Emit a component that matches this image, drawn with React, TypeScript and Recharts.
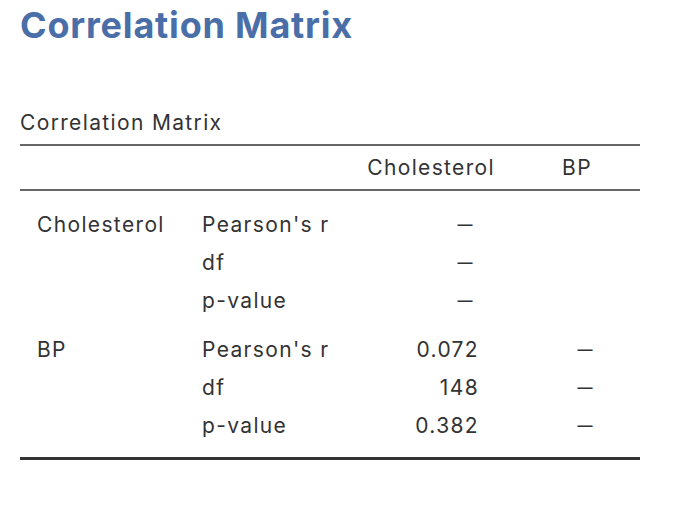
import { ReferenceLine, Scatter, ScatterChart, XAxis, YAxis } from "recharts";

// table content
const pageTitle = "Correlation Matrix";
const tableTitle = "Correlation Matrix";
const variables = ["Cholesterol", "BP"];
const statistics = ["Pearson's r", "df", "p-value"];
const columnHeaders = ["Cholesterol", "BP"];
const cholesterolColumn = ["—", "—", "—", "0.072", "148", "0.382"];
const bpColumn = ["", "", "", "—", "—", "—"];

// layout (pixels in the 690x508 canvas)
const W = 690;
const H = 508;
const groupTop = [224, 349];
const rowStep = 38;
const colX = { group: 37, stat: 202, chol: 479, cholDash: 465, bp: 585 };
const TEXT = "#333333";
const FONT = "Inter, Roboto, 'Noto Sans', sans-serif";

type Cell = { x: number; y: number; text: string; anchor: string; kind: string };

const cells: Cell[] = [];
cells.push({ x: 20, y: 25, text: pageTitle, anchor: "start", kind: "title" });
cells.push({ x: 20, y: 122, text: tableTitle, anchor: "start", kind: "body" });
cells.push({ x: 495, y: 167, text: columnHeaders[0], anchor: "end", kind: "body" });
cells.push({ x: 577, y: 167, text: columnHeaders[1], anchor: "middle", kind: "body" });
variables.forEach((v, gi) => {
    cells.push({ x: colX.group, y: groupTop[gi], text: v, anchor: "start", kind: "body" });
    statistics.forEach((s, si) => {
        const y = groupTop[gi] + si * rowStep;
        const idx = gi * statistics.length + si;
        cells.push({ x: colX.stat, y, text: s, anchor: "start", kind: "body" });
        const c = cholesterolColumn[idx];
        if (c === "—") cells.push({ x: colX.cholDash, y, text: c, anchor: "middle", kind: "dash" });
        else if (c) cells.push({ x: colX.chol, y, text: c, anchor: "end", kind: "body" });
        const b = bpColumn[idx];
        if (b) cells.push({ x: colX.bp, y, text: b, anchor: "middle", kind: "dash" });
    });
});

function CellText(props: any) {
    const { cx, cy, payload } = props;
    const kind = payload.kind;
    const isTitle = kind === "title";
    return (
        <text
            x={cx}
            y={cy}
            textAnchor={payload.anchor}
            dominantBaseline="central"
            fontFamily={FONT}
            fontSize={isTitle ? 36 : kind === "dash" ? 15 : 21}
            fontWeight={isTitle ? 700 : kind === "dash" ? 600 : 400}
            letterSpacing={isTitle ? 0.8 : kind === "dash" ? 0 : 1.35}
            fill={isTitle ? "#4a6ea7" : TEXT}
        >
            {payload.text}
        </text>
    );
}

export default function App() {
    return (
        <div style={{ position: "absolute", top: 0, left: 0, width: W, height: H, background: "#fff" }}>
            <ScatterChart width={W} height={H} margin={{ top: 0, right: 0, bottom: 0, left: 0 }}>
                <XAxis type="number" dataKey="x" domain={[0, W]} hide />
                <YAxis type="number" dataKey="y" domain={[0, H]} reversed hide />
                <ReferenceLine segment={[{ x: 20, y: 145 }, { x: 640, y: 145 }]} stroke={TEXT} strokeWidth={1.5} />
                <ReferenceLine segment={[{ x: 20, y: 190 }, { x: 640, y: 190 }]} stroke={TEXT} strokeWidth={1.5} />
                <ReferenceLine segment={[{ x: 20, y: 458.5 }, { x: 640, y: 458.5 }]} stroke={TEXT} strokeWidth={3} />
                <Scatter data={cells} shape={CellText} isAnimationActive={false} />
            </ScatterChart>
        </div>
    );
}
